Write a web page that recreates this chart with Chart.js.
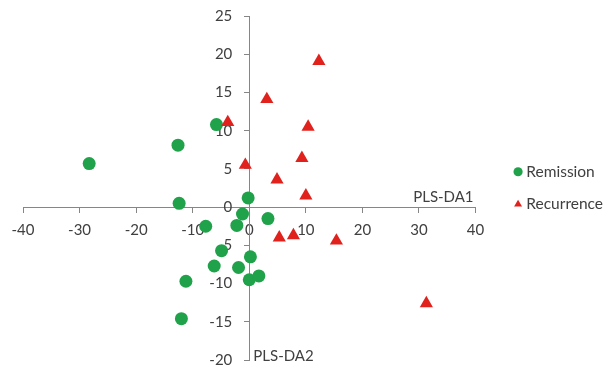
<!DOCTYPE html>
<html>
<head>
<meta charset="utf-8">
<script src="https://cdn.jsdelivr.net/npm/chart.js@4.4.0/dist/chart.umd.min.js"></script>
<style>
  html, body { margin: 0; padding: 0; background: #ffffff; }
  canvas { display: block; }
</style>
</head>
<body>
<canvas id="chart" width="612" height="370"></canvas>
<script>
// PLS-DA score plot: Remission vs Recurrence

const remissionX = [-28.3, -12.6, -5.8, -12.4, -0.2, -1.2, 3.3, -7.7, -2.2, -4.9, 0.2, -6.2, -1.9, 0.0, 1.7, -11.2, -12.0];
const remissionY = [5.7, 8.1, 10.8, 0.5, 1.2, -0.9, -1.5, -2.5, -2.4, -5.7, -6.5, -7.7, -7.9, -9.5, -9.0, -9.7, -14.6];

const recurrenceX = [12.3, 3.1, -3.8, 10.4, 9.3, -0.7, 4.9, 10.0, 5.3, 7.8, 15.4, 31.3];
const recurrenceY = [19.1, 14.1, 11.1, 10.5, 6.4, 5.5, 3.6, 1.5, -4.0, -3.7, -4.4, -12.6];

const xTicks = [-40, -30, -20, -10, 0, 10, 20, 30, 40];
const yTicks = [-20, -15, -10, -5, 0, 5, 10, 15, 20, 25];

const toPoints = (xs, ys) => xs.map((x, i) => ({ x: x, y: ys[i] }));

const textColor = '#404040';
const axisColor = '#868686';
const fontFamily = 'Lato, "Open Sans", sans-serif';

// the legend sits further from the plot than labels.padding allows
const legendGap = 24;

const layoutTweaks = {
    id: 'layoutTweaks',
    afterLayout(chart) {
        // a y axis placed at x=0 puts its labels right on the line, push them left
        const items = chart.scales.y.getLabelItems(chart.chartArea);
        items.forEach(item => { item.options.translation[0] -= 17; });
        // move the legend back into the right padding
        chart.legend.left += legendGap + 1;
        chart.legend.right += legendGap + 1;
    }
};

// axis names drawn next to the centred axes
const axisNames = {
    id: 'axisNames',
    afterDraw(chart) {
        const { ctx, scales } = chart;
        ctx.save();
        ctx.fillStyle = textColor;
        ctx.font = '15px ' + fontFamily;
        ctx.textBaseline = 'alphabetic';
        ctx.textAlign = 'right';
        ctx.fillText('PLS-DA1', scales.x.getPixelForValue(40) - 2, scales.y.getPixelForValue(0) - 5);
        ctx.textAlign = 'left';
        ctx.textBaseline = 'middle';
        ctx.fillText('PLS-DA2', scales.x.getPixelForValue(0) + 4, scales.y.getPixelForValue(-20) - 4);
        ctx.restore();
    }
};

new Chart(document.getElementById('chart'), {
    type: 'scatter',
    data: {
        datasets: [{
            label: 'Remission',
            data: toPoints(remissionX, remissionY),
            pointStyle: 'circle',
            pointRadius: 6.5,
            pointHoverRadius: 6.5,
            backgroundColor: '#1fa249',
            borderColor: '#1fa249',
            borderWidth: 0,
            order: 1
        }, {
            label: 'Recurrence',
            data: toPoints(recurrenceX, recurrenceY),
            pointStyle: 'triangle',
            pointRadius: 7.6,
            pointHoverRadius: 7.6,
            backgroundColor: '#e0211c',
            borderColor: '#e0211c',
            borderWidth: 0,
            order: 0
        }]
    },
    options: {
        responsive: false,
        animation: false,
        devicePixelRatio: 1,
        layout: { padding: { left: 23, top: 16, bottom: 10, right: legendGap } },
        plugins: {
            tooltip: { enabled: false },
            legend: {
                position: 'right',
                labels: {
                    usePointStyle: true,
                    boxWidth: 1,
                    boxHeight: 6.5,
                    padding: 17,
                    color: textColor,
                    font: { family: fontFamily, size: 15.5 },
                    sort: (a, b) => a.datasetIndex - b.datasetIndex
                }
            }
        },
        scales: {
            x: {
                type: 'linear',
                position: { y: 0 },
                min: -40,
                max: 40,
                afterBuildTicks: axis => { axis.ticks = xTicks.map(v => ({ value: v })); },
                afterFit: axis => { axis.paddingLeft = 0; axis.paddingRight = 0; },
                grid: { display: true, drawOnChartArea: false, tickLength: 5, color: axisColor },
                border: { display: true, color: axisColor, width: 1 },
                ticks: { color: textColor, padding: 9, autoSkip: false, maxRotation: 0, font: { family: fontFamily, size: 15 } }
            },
            y: {
                type: 'linear',
                position: { x: 0 },
                min: -20,
                max: 25,
                afterBuildTicks: axis => { axis.ticks = yTicks.map(v => ({ value: v })); },
                afterFit: axis => { axis.paddingTop = 0; axis.paddingBottom = 0; },
                grid: { display: true, drawOnChartArea: false, tickLength: 5, color: axisColor },
                border: { display: true, color: axisColor, width: 1 },
                ticks: { color: textColor, autoSkip: false, font: { family: fontFamily, size: 15 } }
            }
        }
    },
    plugins: [layoutTweaks, axisNames]
});
</script>
</body>
</html>
